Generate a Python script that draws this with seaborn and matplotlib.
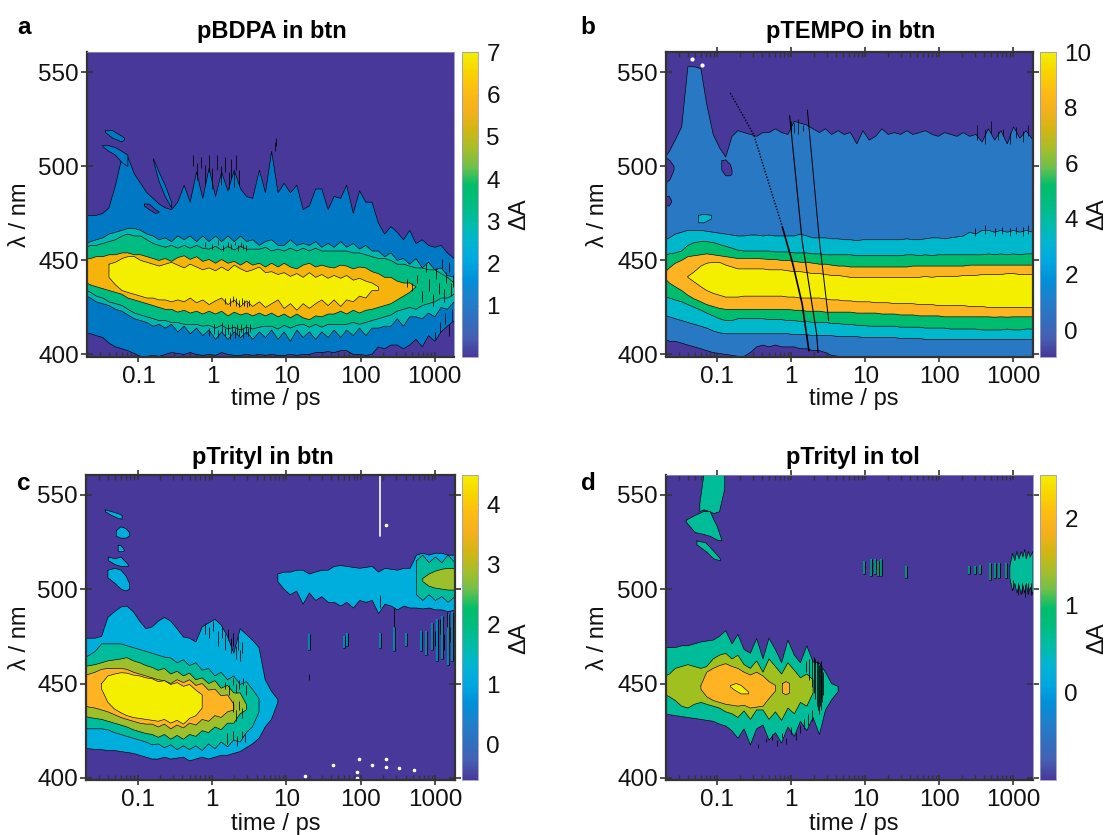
"""
Transient absorption maps: one lambda-time panel per radical/solvent pair.
Each map is stored as the wavelengths where dA crosses a contour level, read
off at fixed delay times, and painted from the lowest level up.
"""

import numpy as np
import matplotlib
matplotlib.use("Agg")
import matplotlib.pyplot as plt
from matplotlib.cm import ScalarMappable
from matplotlib.colors import Normalize
from matplotlib.ticker import FixedLocator, NullFormatter
import seaborn as sns

nan = np.nan

time_ps = [0.02, 0.0225, 0.027, 0.033, 0.04, 0.049, 0.06, 0.072, 0.088, 0.107,
           0.13, 0.158, 0.19, 0.23, 0.28, 0.34, 0.415, 0.5, 0.61, 0.74,
           0.9, 1.1, 1.33, 1.62, 1.97, 2.4, 2.9, 3.5, 4.3, 5.2,
           6.3, 7.7, 9.3, 11.3, 13.8, 16.8, 20.4, 24.8, 30, 36.5,
           44, 54, 65, 80, 97, 118, 143, 174, 212, 258,
           313, 380, 462, 562, 683, 830, 1010, 1230, 1490, 1850]

x_ticks = [0.1, 1, 10, 100, 1000]
x_labels = ["0.1", "1", "10", "100", "1000"]
y_ticks = [400, 450, 500, 550]

parula_stops = ["#47389A", "#4560B2", "#3070C0", "#1F80CC", "#0090D8", "#00A8E0",
                "#00B5D0", "#00BCA8", "#00BC80", "#00BE6A", "#70C04A", "#A8BE28",
                "#D4B512", "#F5B01E", "#FCBC12", "#F9D500", "#F4EE00"]
purple = "#47389A"

# panel a: pBDPA in btn
a_blue_up = [474, 474, 474, 475, 478, 490, 505, 505, 496, 491,
             486, 483, 480, 478, 477, 481, 490, 481, 497, 483,
             499, 484, 497, 487, 498, 488, 484, 483, 498, 486,
             508, 486, 491, 486, 490, 477, 479, 488, 488, 477,
             484, 483, 490, 475, 487, 481, 481, 470, 464, 468,
             465, 461, 466, 459, 461, 458, 457, 458, 454, 451]
a_blue_lo = [411, 411, 410, 409, 406, 404, 403, 402, 400.5, 399,
             399, 399.5, 399, 400, 401, 400.5, 400, 401, 400, 399.5,
             400, 399.5, 401, 400, 399.5, 399.5, 400, 399.5, 400, 399.5,
             400, 399.5, 399.5, 400, 399.5, 400, 400, 401, 401, 401.5,
             401, 402, 402, 400, 400, 399.5, 400, 404, 403, 405,
             405, 403, 405, 408, 404, 410, 407, 412, 415, 418]
a_teal_up = [459, 460, 461, 462, 464, 465, 466, 467, 467, 466,
             464, 463, 461, 462, 460, 463, 461, 463, 460, 463,
             460, 463, 460, 463, 460, 463, 460, 461, 458, 460,
             461, 458, 458, 461, 458, 459, 458, 460, 457, 459,
             457, 460, 457, 459, 456, 458, 455, 455, 452, 454,
             450, 451, 448, 451, 446, 449, 445, 446, 442, 441]
a_teal_lo = [431, 430, 428, 427, 426, 424, 423, 421, 419, 418,
             417, 415, 416, 414, 416, 412, 415, 411, 414, 410,
             413, 408, 412, 408, 412, 409, 412, 408, 412, 409,
             413, 408, 412, 407, 413, 409, 412, 408, 412, 409,
             413, 409, 413, 410, 414, 410, 414, 414, 415, 415,
             419, 415, 420, 420, 419, 422, 420, 425, 424, 428]
a_green_up = [457, 458, 458, 459, 460, 461, 463, 464, 463, 463,
              461, 459, 458, 457, 458, 456.5, 458, 456.5, 458, 456.5,
              456, 457.5, 455.5, 457.5, 455.5, 457.5, 456, 456, 456, 457,
              455, 456, 455, 456.5, 455, 456.5, 455, 456.5, 455, 455,
              455, 455, 455, 454, 454, 453, 452, 451, 451, 450,
              448, 448, 447, 446, 446, 445, 445, 443, 441, 438]
a_green_lo = [434, 433, 431, 430, 428, 427, 426, 424, 422, 421,
              420, 419, 418, 418, 417, 417, 416, 416, 416, 415,
              415.5, 414, 415.5, 413.5, 414.5, 413, 414.5, 413.5, 414.5, 415,
              415, 413.5, 415.5, 414, 415.5, 416, 414.5, 416, 414.5, 416,
              416, 416, 416, 417, 416, 417, 418, 419, 420, 421,
              423, 424, 425, 424, 426, 427, 428, 430, 430, 432]
a_orange_up = [451, 451, 452, 452, 453, 453, 454, 454, 453, 453,
               452, 451, 450, 451, 449.5, 451.5, 452.5, 450.5, 452, 449.5,
               450.5, 448.5, 450.5, 448.5, 449.5, 447.5, 449.5, 447.5, 448.5, 446.5,
               448.5, 446.5, 448.5, 446.5, 445.5, 447.5, 448.5, 446.5, 447.5, 446.5,
               446, 447.5, 447, 445.5, 446.5, 446, 444, 443, 441, 441,
               439, 438, 438, 436, nan, nan, nan, nan, nan, nan]
a_orange_lo = [438, 437, 436, 435, 434, 433, 432, 430, 429, 428,
               427, 426, 425, 424, 424, 422.5, 423.5, 422, 423, 421.5,
               423, 421.5, 423, 420.5, 422.5, 421, 422, 420.5, 422, 420.5,
               422, 420, 421.5, 419.5, 421.5, 419.5, 418.5, 420.5, 420, 421.5,
               421.5, 423, 421.5, 423.5, 422, 423.5, 424, 425, 426, 427,
               429, 431, 433, 436, nan, nan, nan, nan, nan, nan]
a_yellow_up = [nan, nan, nan, nan, 448, 449, 451, 452, 452, 450,
               449, 448, 447, 448, 449, 447.5, 446, 448, 446.5, 445,
               446, 444.5, 446.5, 444.5, 447.5, 445.5, 444, 445, 446.5, 443.5,
               444, 442.5, 443.5, 441.5, 443, 441, 443.5, 441, 442.5, 440.5,
               442, 440.5, 442, 439.5, 440.5, 439, 438, 436, nan, nan,
               nan, nan, nan, nan, nan, nan, nan, nan, nan, nan]
a_yellow_lo = [nan, nan, nan, nan, 441, 437, 434, 433, 432, 431,
               430, 430, 429, 429, 428, 429, 428, 430, 427.5, 429,
               426.5, 428.5, 430, 426.5, 429, 425.5, 428.5, 425.5, 428, 425,
               427, 429, 424.5, 427, 423.5, 427, 424.5, 427, 429, 426,
               429, 425.5, 429, 428, 431, 430, 434, 434, nan, nan,
               nan, nan, nan, nan, nan, nan, nan, nan, nan, nan]
a_islands = [
    ([0.036, 0.045, 0.06, 0.065], [519, 519, 516, 515], [518, 515, 513, 514], "#0078C4"),
    ([0.033, 0.04, 0.049, 0.06, 0.072], [511, 511, 510, 508, 506], [510.5, 508, 506, 502, 500], "#0078C4"),
    ([0.16, 0.19, 0.23, 0.28], [504, 497, 490, 481], [503, 492, 484, 478], "#0078C4"),
    ([0.12, 0.14, 0.17, 0.19], [480, 480, 477, 476], [479, 477, 475, 475.5], purple),
]
a_noise_t = [0.55, 0.62, 0.7, 0.8, 0.9, 1.0, 1.15, 1.3, 1.5, 1.65, 1.8, 1.95, 2.1, 2.3,
             0.9, 1.05, 1.2, 1.35, 1.5, 1.6, 1.7, 1.85, 2.0, 2.15, 2.3, 2.45, 2.6, 2.8, 3.0, 3.2,
             1.5, 1.7, 1.9, 2.1, 2.3, 2.5, 2.7, 2.9, 3.1, 0.8,
             1.0, 1.2, 1.4, 1.6, 1.8, 2.0, 2.2, 2.4, 2.6, 2.8,
             7.0, 7.2,
             420, 500, 580, 680, 760, 850, 950, 1050, 1150, 1250, 1350, 1450, 1550, 1650, 1750, 1830,
             1000, 1200, 1400, 1550, 1700, 1820]
a_noise_lo = [500, 493, 499, 490, 497, 488, 498, 490, 497, 488, 494, 489, 498, 490,
              410, 411, 409, 412, 410, 411, 408, 412, 409, 411, 410, 412, 409, 411, 410, 412,
              427, 426, 428, 426, 425, 427, 426, 425, 426, 457,
              456, 458, 455, 457, 456, 458, 455, 457, 456, 455,
              508, 511,
              436, 434, 438, 428, 444, 434, 426, 440, 432, 446, 428, 438, 444, 431, 436, 426,
              408, 412, 416, 410, 418, 414]
a_noise_hi = [506, 502, 505, 501, 506, 499, 506, 500, 505, 497, 504, 497, 506, 498,
              414, 416, 413, 417, 414, 416, 412, 416, 414, 416, 413, 416, 414, 416, 414, 416,
              430, 430, 431, 430, 429, 430, 429, 428, 429, 460,
              459, 461, 458, 460, 459, 460, 458, 460, 459, 458,
              513, 515,
              440, 438, 442, 434, 448, 440, 432, 446, 438, 451, 435, 444, 449, 438, 442, 434,
              412, 417, 422, 416, 424, 420]

# panel b: pTEMPO in btn
b_blue_up = [505, 508, 514, 521, 553, 553, 552, 533, 517, 510,
             505, 516, 519, 518, 517, 516, 518, 518, 520, 518,
             517, 524, 523, 522, 520, 518, 520, 517, 519, 517,
             518, 512, 519, 514, 516, 520, 517, 518, 517, 519,
             517, 518, 519, 517, 516, 518, 517, 516, 518, 516,
             517, 513, 520, 514, 519, 512, 521, 515, 519, 514]
b_blue_lo = [408, 407, 407, 406, 405, 404, 403, 402, 401, 400.5,
             400, 399.5, 399, 399, 401, 404, 405, 404, 405, 404,
             404, 404, 403, 403, 402, 402, 401, 399.5, 399, 399,
             399, 399, 399, 399, 399, 399, 399, 399, 399, 399,
             399, 399, 399, 399, 399, 399, 399, 399, 399, 399,
             399, 399, 399, 399, 399, 399, 399, 399, 399, 399]
b_teal_up = [461, 462, 464, 465, 466, 466, 466, 465.5, 465, 464.5,
             464, 463.5, 463, 463, 463.5, 463.5, 463, 463.5, 463, 463,
             463, 463, 464, 463, 462, 462, 462, 461.5, 461.5, 461,
             461, 460.5, 461, 461, 461, 461, 461, 461, 461, 461.5,
             461, 461, 461.5, 462, 462, 461.5, 462, 462.5, 463, 465,
             464, 466, 466, 465, 466, 465, 466, 465, 466, 465]
b_teal_lo = [420.5, 420, 419, 418, 417, 416, 415, 414, 412.5, 411.5,
             411, 411, 411, 411, 411, 411, 411, 411, 411, 411,
             411, 410.5, 410.5, 410.5, 410, 410, 410, 410, 409.5, 409.5,
             409.5, 409.5, 409, 409, 409, 409, 409, 409, 408.5, 408.5,
             408.5, 408.5, 408, 408, 408, 408, 408, 408, 408, 408,
             408, 408, 408, 408, 408, 408, 408, 408, 408, 408]
b_green_up = [453, 453.5, 454, 455, 458, 459.5, 460, 460, 459.5, 458.5,
              457.5, 456.5, 455.5, 455, 455, 455, 455, 455, 454.5, 454.5,
              454.5, 454, 454, 454, 453.5, 453.5, 453, 453, 453, 453,
              453, 452.5, 452.5, 452.5, 452.5, 452.5, 452.5, 452.5, 452.5, 453,
              453, 452.5, 453, 452.5, 453, 453, 453, 453, 453, 453,
              453, 453, 453.5, 453, 453.5, 453, 453.5, 453, 453.5, 453.5]
b_green_lo = [430.5, 430, 429, 428, 426.5, 425, 423.5, 422, 420.5, 419,
              418, 418, 419, 419, 419, 419, 419, 418.5, 418.5, 418.5,
              418, 418, 417.5, 417.5, 417, 417, 417, 416.5, 416.5, 416,
              416, 415.5, 415.5, 415, 415, 415, 415, 415, 414.5, 414.5,
              414.5, 414.5, 414, 414, 414, 414, 413.5, 413.5, 413.5, 413.5,
              413.5, 413, 413, 413, 413, 413.5, 413, 413, 413.5, 413.5]
b_orange_up = [444, 446, 448.5, 450, 452, 452.5, 453, 453.5, 453, 452.5,
               452, 451.5, 451, 451, 451, 451, 450.8, 450.5, 450.5, 450,
               450, 449.5, 449, 449, 448.5, 448, 448, 447.5, 447, 447,
               446.5, 446.5, 446.5, 446.5, 446.5, 446.5, 446.5, 446.5, 446.5, 446.5,
               447, 447, 447, 447, 447, 447, 447, 447, 447, 447.5,
               447.5, 447.5, 447.5, 447.5, 447.5, 447.5, 447.5, 447.5, 447.5, 447.5]
b_orange_lo = [440, 438, 436, 434, 431.5, 429.5, 428, 426.5, 425.5, 424.5,
               424, 424, 424, 424, 424, 424, 424, 424, 424, 424,
               424, 423.5, 423.5, 423, 423, 423, 422.5, 422.5, 422.5, 422.5,
               422.5, 422, 422, 422, 422, 421.5, 421.5, 421.5, 421, 421,
               421, 420.5, 420.5, 420.5, 420.5, 420, 420, 420, 420, 420,
               420, 420, 420, 419.8, 420, 419.8, 420, 420, 420, 420]
b_yellow_up = [nan, nan, nan, nan, 441.5, 444, 447, 448.5, 449, 449,
               447.5, 446.5, 445.5, 445.5, 445.5, 445.5, 445.5, 445, 445, 445,
               444.5, 444, 444, 443.5, 443, 443, 442.5, 442, 442, 441.5,
               441, 441, 441, 441, 441, 441, 441, 441, 441, 441,
               441, 441, 441.5, 441, 441.5, 441.5, 441.5, 441.5, 442, 442,
               442, 442.5, 442.5, 442.5, 442.5, 443, 443, 442.5, 442.5, 442.5]
b_yellow_lo = [nan, nan, nan, nan, 441, 438.5, 436, 434, 432.5, 431.5,
               430.5, 430.5, 430.5, 431, 431, 431, 431, 431, 431, 431,
               430.5, 430.5, 430, 430, 430, 430, 429.5, 429, 429, 428.5,
               428.5, 428, 428, 428, 427.5, 427.5, 427.5, 427, 427, 427,
               427, 426.5, 426.5, 426.5, 426, 426, 426, 426, 426, 425.5,
               425.5, 425.5, 425, 425, 425, 425, 425, 425, 425, 425]
b_islands = [
    ([0.02, 0.023, 0.026], [505, 503, 500], [491, 493, 498], purple),
    ([0.02, 0.0225, 0.024], [484, 484, 482], [479, 479, 481], purple),
    ([0.115, 0.13, 0.15, 0.158], [503, 503.5, 501, 498], [498, 495, 495, 496], purple),
    ([0.056, 0.066, 0.083], [474, 474.5, 474], [470, 470, 472], "#00B8CC"),
]
b_scan1_dot_t = [0.15, 0.31, 0.76]
b_scan1_dot_nm = [539, 517, 467.6]
b_scan1_t = [0.76, 1.05, 1.4, 1.73]
b_scan1_nm = [467.6, 448, 427, 402]
b_scan2_t = [0.95, 1.4, 2.2, 2.3]
b_scan2_nm = [527, 460.5, 411, 401]
b_scan3_t = [1.65, 2.4, 3.2]
b_scan3_nm = [530, 460.5, 418]
b_white_t = [0.045, 0.063]
b_white_nm = [557, 554]
b_noise_t = [1.0, 1.1, 1.25, 1.45, 320, 420, 500, 620, 720, 900, 1100, 1350, 1600, 1780,
             300, 420, 560, 700, 900, 1100, 1350, 1600]
b_noise_lo = [516, 518, 517, 519, 514, 512, 518, 514, 516, 512, 515, 513, 516, 512,
              463, 464, 463, 464, 463, 464, 463, 464]
b_noise_hi = [524, 523, 525, 522, 522, 520, 524, 519, 520, 518, 521, 519, 522, 518,
              467, 469, 467, 468, 467, 468, 468, 469]

# panel c: pTrityl in btn
c_blue_up = [474, 474, 474, 475, 485, 488, 490.5, 491, 488, 483,
             479, 480, 483, 485, 483, 479, 474.6, 474, 472, 480,
             482, 484, 481, 475, 466, 479, 476, 473, 469, 452,
             446, 441.5] + [nan] * 28
c_blue_lo = [415.5, 415.5, 415, 415, 414.5, 414.5, 414, 413.5, 413, 412,
             411, 410, 410, 411, 410, 410.5, 411, 409, 410, 411,
             410, 411, 412, 412, 413, 414, 416, 418, 421, 427,
             431, 440] + [nan] * 28
c_teal_up = [464, 465, 467, 471, 471, 471, 471, 470, 469, 468,
             467, 466, 465, 464, 463.5, 461, 462.5, 459.5, 461, 457,
             458, 454, 456, 452, 454, 449.5, 451, 447, 442] + [nan] * 31
c_teal_lo = [426, 426, 426, 426, 425.5, 424, 423, 422, 421, 420,
             419, 417.5, 418, 416, 417.5, 415, 417, 415, 417, 414.5,
             418, 415.5, 419, 416.5, 420, 419, 424, 427, 435] + [nan] * 31
c_olive_up = [459, 459.5, 460, 461, 462, 462.5, 463, 463.7, 462, 461,
              459.5, 458.5, 457, 458, 455, 456.5, 454, 455.5, 452, 453,
              450, 451.5, 447.5, 449, 445, 445, 439] + [nan] * 33
c_olive_lo = [432.6, 432, 431.5, 431, 430, 429, 428, 427, 425.5, 424.5,
              423.5, 423, 421.5, 423, 420.5, 422.5, 420.5, 423, 422, 425,
              424, 427, 425.5, 429, 429, 434, 436] + [nan] * 33
c_orange_up = [454.3, 455, 456, 457.5, 458, 458, 458, 457.5, 456, 455,
               454, 453, 452, 451.5, 450, 452, 450.5, 452, 449, 450,
               446.5, 447, 443.5, 444, 439] + [nan] * 35
c_orange_lo = [438, 437.5, 437, 436, 435, 433.5, 432, 431, 430, 429,
               428.5, 428.5, 427, 428.5, 426, 428, 426.5, 429, 428, 431,
               430, 433, 432, 435, 436] + [nan] * 35
c_yellow_up = [nan, nan, nan, 450, 454, 455, 455.7, 455.5, 454.5, 454,
               453, 452.5, 451, 451.5, 449.5, 450.5, 448.5, 449.5, 446.5, 444] + [nan] * 40
c_yellow_lo = [nan, nan, nan, 447, 440, 436.5, 434.5, 433, 432, 431.5,
               431, 430.5, 430, 431, 429, 430.5, 428.5, 431.5, 433, 437] + [nan] * 40
c_late_t = time_ps[31:]
c_late_up = [508, 509, 509, 510, 510, 508, 509, 510, 510,
             512, 512.5, 512, 511.5, 511, 511.5, 512, 509, 511, 510.5,
             510, 511, 511, 518, 519, 518, 519, 519, 518, 518]
c_late_lo = [504, 500, 497, 499, 492, 498, 494, 496, 493,
             493, 491, 493, 490, 494, 493, 494, 487, 492, 491,
             489, 491, 490, 490, 489.5, 490, 489, 489, 488, 489]
c_islands = [
    ([0.037, 0.045, 0.055, 0.062], [542, 541, 540, 539], [541, 539, 537.5, 537], "#00AEDE"),
    ([0.052, 0.06, 0.07, 0.078], [531, 533, 532, 530], [528, 527, 527, 528], "#00AEDE"),
    ([0.055, 0.06, 0.066], [523, 523, 521], [520, 520, 520], "#00AEDE"),
    ([0.041, 0.05, 0.06, 0.075], [517, 516, 517, 513], [515, 513, 512, 512], "#00AEDE"),
    ([0.04, 0.05, 0.06, 0.07, 0.078], [510, 511, 510, 507, 503], [506, 503, 500, 499, 500], "#00AEDE"),
    ([562, 683, 830, 1010, 1230, 1490, 1850], [515, 518, 514, 517, 514, 518, 514],
     [497, 494, 497, 494, 496, 493, 496], "#00BC9C"),
    ([683, 830, 1010, 1230, 1490, 1850], [505.7, 508, 509.5, 510.5, 511, 511],
     [504, 501.5, 500.5, 500, 499.5, 499.5], "#9CBF2B"),
]
c_stripe_t = [20, 60, 66, 180, 280, 400, 640, 760, 900, 1050, 1250, 1500, 1700]
c_stripe_lo = [468, 469, 470, 469, 467, 470, 467, 465, 468, 462, 463, 460, 462]
c_stripe_hi = [476, 475, 477, 477, 480, 477, 478, 478, 482, 484, 486, 487, 488]
c_noise_t = [0.8, 0.9, 1.05, 1.2, 1.35, 1.5, 1.65, 1.8, 1.95, 2.1, 2.25, 2.4, 2.55,
             1.5, 1.7, 1.9, 2.1, 2.3, 2.6, 2.9,
             1.9, 2.1, 2.3, 2.5, 1.6, 1.9, 2.2, 2.5, 2.8,
             20, 180, 280, 1000, 1150, 1300, 1450, 1600, 1750]
c_noise_lo = [476, 474, 478, 470, 474, 468, 473, 466, 470, 463, 468, 462, 466,
              447, 444, 449, 445, 447, 449, 444,
              435, 430, 436, 432, 418, 420, 417, 421, 419,
              452, 490, 480, 470, 476, 468, 480, 472, 478]
c_noise_hi = [482, 480, 483, 478, 480, 476, 479, 474, 477, 470, 475, 468, 472,
              451, 449, 453, 450, 452, 453, 449,
              441, 436, 441, 437, 424, 425, 422, 425, 423,
              455, 497, 490, 478, 484, 476, 488, 480, 486]
c_white_t = [180, 180]
c_white_nm = [561, 528]
c_dots_t = [220, 42, 88, 95, 140, 220, 220, 330, 520, 18, 90]
c_dots_nm = [534, 407, 403, 410, 407, 410, 406, 405, 404, 401, 400]

# panel d: pTrityl in tol
d_teal_up = [469, 469, 469, 470, 470, 471, 472, 472.5, 473, 475,
             478, 471, 476, 468, 466, 473.8, 463, 474, 468, 461,
             473, 465, 461, 470, 461.5, 460.7, 456, 450, 448.4] + [nan] * 31
d_teal_lo = [434, 433.5, 433, 432.5, 432, 431.5, 431, 430.5, 430, 428.5,
             427.5, 425, 421, 426, 417.5, 426, 428, 420, 424, 418.5,
             427, 422, 430, 425, 432, 423, 436, 441.3, 445.7] + [nan] * 31
d_olive_up = [454, 455, 458, 459, 460, 459, 458, 459, 463, 465,
              466, 463, 465, 460, 458, 462, 456, 463, 459, 455,
              461, 457, 453, 455, 452] + [nan] * 35
d_olive_lo = [444, 443, 441, 438, 437, 439, 440, 439, 438, 437,
              435, 434, 432, 435.5, 431, 436, 436, 431, 435, 430.5,
              437, 434, 440, 438, 445] + [nan] * 35
d_orange_up = [nan, nan, nan, nan, nan, nan, 449, 456, 458, 459.5,
               460.5, 459, 458, 456, 454.5, 456, 454, 451, 449] + [nan] * 41
d_orange_lo = [nan, nan, nan, nan, nan, nan, 447, 443, 441, 440,
               439, 438.5, 438, 438.5, 437, 437.5, 438, 442, 446] + [nan] * 41
d_islands = [
    ([0.058, 0.066, 0.08, 0.09, 0.107, 0.126], [545, 561, 561, 561, 561, 561],
     [541, 542, 541, 540, 541, 553], "#00BC98"),
    ([0.038, 0.05, 0.065, 0.08, 0.1, 0.115], [536.5, 539, 541, 541, 533, 526],
     [535.5, 530, 529, 528, 526, 525.5], "#00BC98"),
    ([0.053, 0.07, 0.09, 0.11], [525.5, 524.5, 520, 516], [523.5, 520, 516, 515], "#00BC98"),
    ([900, 980, 1050, 1120, 1200, 1280, 1350, 1430, 1500, 1600, 1700, 1850],
     [512, 519, 515, 520, 516, 520, 517, 521, 516, 520, 517, 520],
     [506, 499, 503, 498, 502, 497, 502, 498, 503, 497, 501, 497], "#00BC98"),
    ([0.76, 0.85, 0.95], [450, 451, 450], [445, 444, 445], "#FDB322"),
    ([0.152, 0.18, 0.21, 0.265], [449, 450, 449, 445.5], [448, 446, 444.5, 444.5], "#F4EE00"),
]
d_stripe_t = [9.5, 12, 13.5, 15, 16.5, 36, 250, 300, 360, 480, 560, 650, 800]
d_stripe_lo = [508, 507, 508, 507, 507, 506, 508, 508, 508, 505, 506, 506, 506]
d_stripe_hi = [515, 516, 516, 515, 516, 512, 512, 512, 513, 514, 514, 514, 514]
d_noise_t = [1.6, 1.75, 1.9, 2.0, 2.1, 2.2, 2.3, 2.4, 2.45, 2.5, 2.55, 2.6, 2.7,
             0.55, 0.65, 0.75, 0.85, 1.0, 1.15, 1.3, 1.5, 1.7, 1.9, 0.45, 0.35,
             1000, 1150, 1300, 1450, 1600, 1750]
d_noise_lo = [456, 452, 448, 445, 442, 438, 436, 434, 438, 442, 436, 440, 444,
              420, 417, 421, 418, 423, 420, 424, 426, 428, 430, 419, 416,
              500, 497, 498, 496, 498, 497]
d_noise_hi = [462, 463, 463, 464, 463, 462, 462, 460, 461, 462, 458, 458, 456,
              423, 420, 424, 421, 427, 424, 428, 431, 434, 436, 421, 418,
              505, 503, 503, 502, 503, 503]


def px_text(fig, x, y, s, **kwargs):
    fig.text(x / 1110, 1 - y / 835, s, ha="center", va="center", **kwargs)


def draw_region(ax, t, upper, lower, color, z):
    t = np.array(t, dtype=float)
    upper = np.array(upper, dtype=float)
    lower = np.array(lower, dtype=float)
    keep = np.isfinite(upper)
    xs = np.r_[t[keep], t[keep][::-1], t[keep][0]]
    ys = np.r_[upper[keep], lower[keep][::-1], upper[keep][0]]
    ax.fill(xs, ys, color=color, linewidth=0, zorder=z)
    sns.lineplot(x=xs, y=ys, sort=False, estimator=None, errorbar=None,
                 color="black", linewidth=0.45, zorder=z + 0.001, ax=ax)


def setup_panel(fig, rect, cbar_x, vmin, vmax, cbar_ticks):
    left, right, top, bottom = rect
    ax = fig.add_axes([left / 1110, 1 - bottom / 835, (right - left) / 1110, (bottom - top) / 835])
    ax.set_facecolor(purple)
    ax.set_xscale("log")

    cax = fig.add_axes([cbar_x[0] / 1110, 1 - bottom / 835, (cbar_x[1] - cbar_x[0]) / 1110, (bottom - top) / 835])
    sm = ScalarMappable(Normalize(vmin, vmax), sns.blend_palette(parula_stops, as_cmap=True))
    cbar = fig.colorbar(sm, cax=cax, ticks=cbar_ticks)
    cbar.ax.tick_params(direction="in", length=3, width=0.8, color="#666666", labelsize=17.5,
                        labelcolor="#111111", pad=6)
    cbar.outline.set_edgecolor("#9a9ac0")
    cbar.outline.set_linewidth(0.6)
    return ax


def finish_panel(ax, frame):
    ax.set_xlim(0.02, 1850)
    ax.set_ylim(398.9, 560.7)
    ax.xaxis.set_major_locator(FixedLocator(x_ticks))
    ax.set_xticklabels(x_labels)
    minors = [m * 10.0 ** e for e in range(-2, 4) for m in range(2, 10)]
    ax.xaxis.set_minor_locator(FixedLocator(minors))
    ax.xaxis.set_minor_formatter(NullFormatter())
    ax.set_yticks(y_ticks)
    full = frame == "full"
    ticks_top = frame != "open"
    ax.tick_params(axis="x", which="major", direction="inout", length=7, width=1.2, top=ticks_top,
                   color="#333333", labelsize=17.5, labelcolor="#111111", pad=3)
    ax.tick_params(axis="x", which="minor", direction="in", length=3.5, width=1.0, top=ticks_top, color="#333333")
    ax.tick_params(axis="y", which="major", direction="inout", length=9, width=1.2,
                   right=frame != "open", color="#333333", labelsize=17.5, labelcolor="#111111", pad=1)
    for name, spine in ax.spines.items():
        spine.set_visible(True)
        heavy = name in ("left", "bottom") or full
        spine.set_linewidth(1.6 if heavy else 0.6)
        spine.set_edgecolor("#333333" if heavy else "#8f8fb5")
        spine.set_zorder(5)


sns.set_theme(style="ticks")
plt.rcParams["font.family"] = ["Liberation Sans", "DejaVu Sans"]
plt.rcParams["axes.unicode_minus"] = False

fig = plt.figure(figsize=(11.1, 8.35), dpi=100)

# panel a
ax_a = setup_panel(fig, (86.7, 454.3, 52.3, 356.5), (462, 478), -0.2, 7, [1, 2, 3, 4, 5, 6, 7])
regions = [(time_ps, a_blue_up, a_blue_lo, "#0078C4"), a_islands[0], a_islands[1], a_islands[2], a_islands[3],
           (time_ps, a_teal_up, a_teal_lo, "#00B8B0"), (time_ps, a_green_up, a_green_lo, "#00BC82"),
           (time_ps, a_orange_up, a_orange_lo, "#F5B30C"), (time_ps, a_yellow_up, a_yellow_lo, "#F4EE00")]
for i, (t, up, lo, color) in enumerate(regions):
    draw_region(ax_a, t, up, lo, color, 1 + 0.02 * i)
ax_a.vlines(a_noise_t, a_noise_lo, a_noise_hi, color="black", linewidth=0.55, zorder=1.8)
finish_panel(ax_a, "open")

# panel b
ax_b = setup_panel(fig, (665.6, 1033, 52.3, 356.5), (1040, 1056), -0.95, 10, [0, 2, 4, 6, 8, 10])
regions = [(time_ps, b_blue_up, b_blue_lo, "#2878C4"), b_islands[0], b_islands[1], b_islands[2], b_islands[3],
           (time_ps, b_teal_up, b_teal_lo, "#00B8CC"), (time_ps, b_green_up, b_green_lo, "#00BC6E"),
           (time_ps, b_orange_up, b_orange_lo, "#FDB322"), (time_ps, b_yellow_up, b_yellow_lo, "#F4EE00")]
for i, (t, up, lo, color) in enumerate(regions):
    draw_region(ax_b, t, up, lo, color, 1 + 0.02 * i)
sns.lineplot(x=b_scan1_dot_t, y=b_scan1_dot_nm, sort=False, estimator=None, errorbar=None,
             color="black", linewidth=1.0, linestyle=(0, (1, 1.2)), zorder=1.8, ax=ax_b)
for scan_t, scan_nm, width in [(b_scan1_t, b_scan1_nm, 1.2), (b_scan2_t, b_scan2_nm, 0.8), (b_scan3_t, b_scan3_nm, 0.7)]:
    sns.lineplot(x=scan_t, y=scan_nm, sort=False, estimator=None, errorbar=None,
                 color="black", linewidth=width, zorder=1.8, ax=ax_b)
ax_b.vlines(b_noise_t, b_noise_lo, b_noise_hi, color="black", linewidth=0.5, zorder=1.8)
ax_b.scatter(b_white_t, b_white_nm, s=4, color="white", zorder=1.9)
finish_panel(ax_b, "full")

# panel c
ax_c = setup_panel(fig, (85.5, 455, 474.5, 780), (462, 478), -0.6, 4.5, [0, 1, 2, 3, 4])
regions = [(time_ps, c_blue_up, c_blue_lo, "#00AEDE"), (c_late_t, c_late_up, c_late_lo, "#00AEDE")] + c_islands + [
           (time_ps, c_teal_up, c_teal_lo, "#00BC9C"), (time_ps, c_olive_up, c_olive_lo, "#9CBF2B"),
           (time_ps, c_orange_up, c_orange_lo, "#FDB322"), (time_ps, c_yellow_up, c_yellow_lo, "#F4EE00")]
for i, (t, up, lo, color) in enumerate(regions):
    draw_region(ax_c, t, up, lo, color, 1 + 0.02 * i)
ax_c.vlines(c_stripe_t, c_stripe_lo, c_stripe_hi, color="black", linewidth=1.9, zorder=1.65)
ax_c.vlines(c_stripe_t, c_stripe_lo, c_stripe_hi, color="#00AEDE", linewidth=1.1, zorder=1.7)
ax_c.vlines(c_noise_t, c_noise_lo, c_noise_hi, color="black", linewidth=0.55, zorder=1.8)
sns.lineplot(x=c_white_t, y=c_white_nm, sort=False, estimator=None, errorbar=None,
             color="white", linewidth=1.2, zorder=1.9, ax=ax_c)
ax_c.scatter(c_dots_t, c_dots_nm, s=2.5, color="white", zorder=1.9)
finish_panel(ax_c, "full")

# panel d
ax_d = setup_panel(fig, (665.6, 1033, 474.5, 780), (1040, 1056), -1, 2.5, [0, 1, 2])
regions = [(time_ps, d_teal_up, d_teal_lo, "#00BC98"), (time_ps, d_olive_up, d_olive_lo, "#A0C020"),
           (time_ps, d_orange_up, d_orange_lo, "#FDB322")] + d_islands
for i, (t, up, lo, color) in enumerate(regions):
    draw_region(ax_d, t, up, lo, color, 1 + 0.02 * i)
ax_d.vlines(d_stripe_t, d_stripe_lo, d_stripe_hi, color="black", linewidth=1.9, zorder=1.65)
ax_d.vlines(d_stripe_t, d_stripe_lo, d_stripe_hi, color="#00BC98", linewidth=1.1, zorder=1.7)
ax_d.vlines(d_noise_t, d_noise_lo, d_noise_hi, color="black", linewidth=0.55, zorder=1.8)
finish_panel(ax_d, "side")

panel_titles = ["pBDPA in btn", "pTEMPO in btn", "pTrityl in btn", "pTrityl in tol"]
title_x = [272, 851, 263, 853]
title_y = [31.5, 31.5, 457.5, 457.5]
letter_x = [23.5, 588, 24, 588]
letter_y = [27, 27, 484, 484]
label_x = [20, 598, 20, 598]
time_x = [276, 854, 276, 854]
time_y = [399, 399, 824, 824]
nm_y = [215, 215, 638, 638]
cbar_label_x = [519, 1097, 519, 1097]
cbar_label_y = [214, 214, 638, 638]
for i, letter in enumerate("abcd"):
    px_text(fig, title_x[i], title_y[i], panel_titles[i], fontsize=17, fontweight="bold", color="black")
    px_text(fig, letter_x[i], letter_y[i], letter, fontsize=17.5, fontweight="bold", color="black")
    px_text(fig, time_x[i], time_y[i], "time / ps", fontsize=17, color="#111111")
    px_text(fig, label_x[i], nm_y[i], "λ / nm", fontsize=17, rotation=90, color="#111111")
    px_text(fig, cbar_label_x[i], cbar_label_y[i], "ΔA", fontsize=17, rotation=90, color="#111111")

fig.savefig("out.png", dpi=100)
